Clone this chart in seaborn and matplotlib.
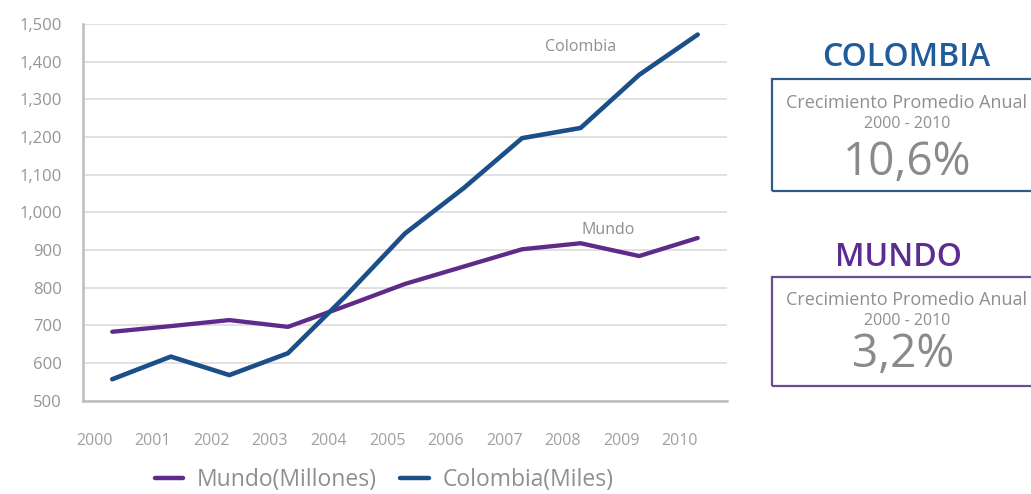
import matplotlib
matplotlib.use("Agg")
import matplotlib.pyplot as plt
import matplotlib.transforms as mtransforms
from matplotlib.patches import Rectangle
import seaborn as sns
import pandas as pd

# ---- data -------------------------------------------------------------
years = ["2000", "2001", "2002", "2003", "2004", "2005",
         "2006", "2007", "2008", "2009", "2010"]
mundo = [683, 698, 714, 696, 752, 810, 856, 902, 918, 884, 932]          # millones
colombia = [557, 617, 568, 626, 780, 944, 1064, 1197, 1224, 1365, 1472]  # miles
series_names = ["Mundo(Millones)", "Colombia(Miles)"]
y_ticks = [500, 600, 700, 800, 900, 1000, 1100, 1200, 1300, 1400, 1500]
y_tick_labels = ["500", "600", "700", "800", "900", "1,000", "1,100",
                 "1,200", "1,300", "1,400", "1,500"]
growth_colombia = "10,6%"
growth_mundo = "3,2%"
growth_caption = "Crecimiento Promedio Anual"
growth_period = "2000 - 2010"

# ---- style ------------------------------------------------------------
sns.set_theme(style="white")
plt.rcParams["font.family"] = ["Open Sans", "DejaVu Sans"]

BLUE = "#1b4f8a"
PURPLE = "#5e2b8a"
GRID = "#d9d9d9"
TXT = "#8f8f8f"

df = pd.DataFrame({
    "idx": list(range(len(years))) * 2,
    "valor": mundo + colombia,
    "serie": [series_names[0]] * len(years) + [series_names[1]] * len(years),
})

W, H = 1031, 494
fig = plt.figure(figsize=(W / 100, H / 100), dpi=100)
ax = fig.add_axes([83 / W, 1 - 400.7 / H, (727 - 83) / W, (400.7 - 24) / H])

sns.lineplot(data=df, x="idx", y="valor", hue="serie", hue_order=series_names,
             palette=[PURPLE, BLUE], linewidth=3.1, ax=ax, legend=False,
             solid_capstyle="round", solid_joinstyle="round")
ax.lines[1].set_linewidth(3.3)

ax.set_xlim(-0.5, len(years) - 0.5)
ax.set_ylim(500, 1500)
ax.set_xlabel("")
ax.set_ylabel("")
ax.set_yticks(y_ticks)
ax.set_yticklabels(y_tick_labels)
ax.set_xticks(range(len(years)))
ax.set_xticklabels(years)

ax.yaxis.grid(True, color=GRID, linewidth=1.1)
ax.xaxis.grid(False)
ax.set_axisbelow(True)
for s in ["top", "right"]:
    ax.spines[s].set_visible(False)
for s in ["left", "bottom"]:
    ax.spines[s].set_color("#bdbdbd")
    ax.spines[s].set_linewidth(1.8)

ax.tick_params(axis="y", length=5, width=1, color="#c8c8c8", pad=10,
               labelsize=12, labelcolor="#959595")
ax.tick_params(axis="x", length=0, pad=23, labelsize=11.5, labelcolor="#a0a0a0")
offset = mtransforms.ScaledTranslation(-0.18, 0, fig.dpi_scale_trans)
for lab in ax.get_xticklabels():
    lab.set_transform(lab.get_transform() + offset)

# series labels inside the plot
ax.text(8.0, 1439, "Colombia", ha="center", va="center", fontsize=11.5, color=TXT)
ax.text(8.47, 953, "Mundo", ha="center", va="center", fontsize=11.5, color=TXT)

# legend under the chart
handles = [plt.Line2D([], [], color=PURPLE, linewidth=3.2),
           plt.Line2D([], [], color=BLUE, linewidth=3.2)]
leg = fig.legend(handles, series_names, loc="center", ncol=2,
                 bbox_to_anchor=(384 / W, 1 - 480 / H), frameon=False,
                 fontsize=16.5, handlelength=1.25, handletextpad=0.6,
                 columnspacing=1.0)
for t in leg.get_texts():
    t.set_color(TXT)


# ---- growth boxes -----------------------------------------------------
def fy(y):
    return 1 - y / H


def growth_box(title, color, edge, top, bottom, cap_y, per_y, val_y, title_y,
               value, cx, val_cx):
    fig.patches.append(Rectangle((772 / W, fy(bottom)), (1045 - 772) / W,
                                 (bottom - top) / H, transform=fig.transFigure,
                                 fill=False, edgecolor=edge, linewidth=1.6))
    fig.text(cx / W, fy(title_y), title, ha="center", va="center",
             fontsize=23, fontweight="semibold", color=color)
    fig.text(907 / W, fy(cap_y), growth_caption, ha="center", va="center",
             fontsize=13, color=TXT)
    fig.text(907 / W, fy(per_y), growth_period, ha="center", va="center",
             fontsize=11.5, color=TXT)
    fig.text(val_cx / W, fy(val_y), value, ha="center", va="center",
             fontsize=33, color="#8a8a8a")


growth_box("COLOMBIA", "#1f5c99", "#2e5b8a", 79, 191, 103, 124, 163, 58,
           growth_colombia, 906, 907)
growth_box("MUNDO", "#5c2d91", "#6a4c93", 277, 386, 300, 321, 355, 257,
           growth_mundo, 898, 903)

fig.savefig("out.png", dpi=100, facecolor="white")
